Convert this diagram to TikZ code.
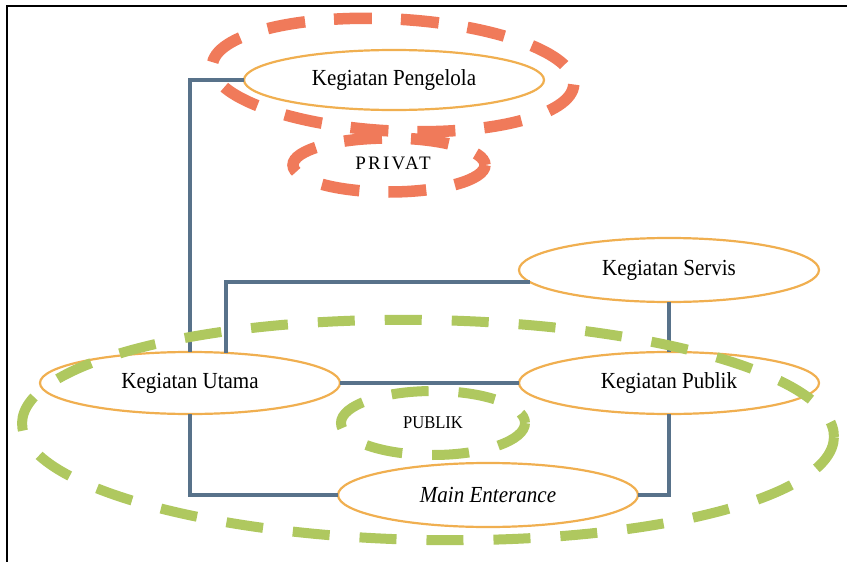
\documentclass[tikz,border=0pt]{standalone}
\usepackage{fontspec}
\setmainfont{Liberation Serif}
\usetikzlibrary{shapes.geometric}
\definecolor{linec}{RGB}{88,114,138}
\definecolor{ovalc}{RGB}{240,175,80}
\definecolor{redd}{RGB}{240,122,90}
\definecolor{greend}{RGB}{175,200,95}
\newcommand{\condtxt}[1]{\scalebox{0.915}[1]{#1}}
\begin{document}
\begin{tikzpicture}[x=1pt,y=-1pt,
  act/.style={ellipse, draw=ovalc, line width=2.2pt, inner sep=0pt, outer sep=0pt,
    minimum width=300pt, minimum height=62pt, font=\fontsize{23}{26}\selectfont},
  conn/.style={draw=linec, line width=4.5pt},
  zonered/.style={draw=redd, line width=11.5pt, dash pattern=on 38pt off 29pt},
  zonegreen/.style={draw=greend, line width=10pt, dash pattern=on 37pt off 30pt},
  zonelbl/.style={inner sep=0pt}]
\useasboundingbox (0,0) rectangle (847,562);
\draw[line width=2.5pt] (7,562) -- (7,6) -- (847,6);
% activity nodes
\node[act, minimum height=60pt] (peng) at (394,80) {\condtxt{Kegiatan Pengelola}};
\node[act, minimum height=64pt] (serv) at (669,270) {\condtxt{Kegiatan Servis}};
\node[act] (utama) at (190,383) {\condtxt{Kegiatan Utama}};
\node[act] (publik) at (669,383) {\condtxt{Kegiatan Publik}};
\node[act, minimum height=64pt] (main) at (488,495) {\condtxt{\itshape Main Enterance}};
% connectors
\draw[conn] (peng.west) -| (utama.north);
\draw[conn] (serv.185) -| (utama.40);
\draw[conn] (serv.south) -- (publik.north);
\draw[conn] (utama.east) -- (publik.west);
\draw[conn] (utama.south) |- (main.west);
\draw[conn] (publik.south) |- (main.east);
% zones
\draw[zonered, rotate around={-3:(393,75)}] (393,75) ellipse [x radius=181, y radius=56];
\draw[zonered] (389,165) ellipse [x radius=96, y radius=27];
\draw[zonegreen, rotate around={-1:(428,430)}] (428,430) ellipse [x radius=406, y radius=110];
\draw[zonegreen] (433,423) ellipse [x radius=92, y radius=32];
\node[zonelbl, font=\fontsize{19}{21}\selectfont\addfontfeature{LetterSpace=12}] (privat) at (393,163) {PRIVAT};
\node[zonelbl, font=\fontsize{18}{20}\selectfont] (publbl) at (433,423) {\scalebox{0.92}[1]{PUBLIK}};
\end{tikzpicture}
\end{document}
